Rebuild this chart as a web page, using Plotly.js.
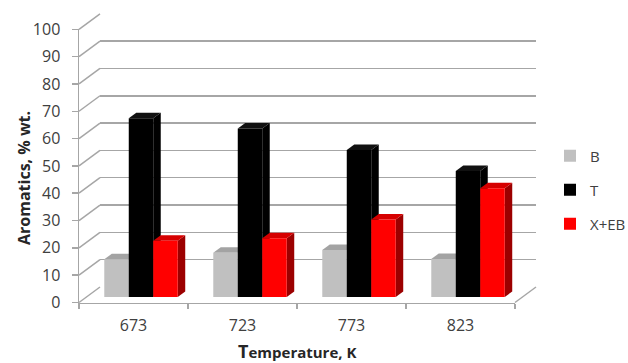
<!DOCTYPE html>
<html>
<head>
<meta charset="utf-8">
<script src="https://cdn.plot.ly/plotly-3.0.1.min.js"></script>
<style>html,body{margin:0;padding:0;background:#fff;}#chart{width:628px;height:363px;}</style>
</head>
<body>
<div id="chart"></div>
<script>
// ---- data ----
const categories = ['673', '723', '773', '823'];
const seriesNames = ['B', 'T', 'X+EB'];
const valuesB = [13.8, 16.2, 17.2, 13.9];
const valuesT = [65.4, 61.7, 53.8, 46.1];
const valuesXEB = [20.6, 21.5, 28.4, 39.8];
const yTicks = [0, 10, 20, 30, 40, 50, 60, 70, 80, 90, 100];

// ---- styles ----
const frontColors = ['#C0C0C0', '#000000', '#FF0000'];
const topColors = ['#A3A3A3', '#111111', '#D60000'];
const sideColors = ['#9A9A9A', '#000000', '#9C0000'];
const gridColor = '#A6A6A6';
const textColor = '#404040';
const FONT = 'Open Sans, sans-serif';

// ---- geometry (pixels) ----
const W = 628, H = 363;
const px = x => x / W, py = y => 1 - y / H;
const FR = {l: 79, r: 515, b: 302.5, t: 29.3};          // front axes
const BK = {l: 100, r: 536, b: 287, t: 13.8};           // back wall
const BR = {l: 86.5, r: 522.5, b: 297, t: 23.8};        // bar plane
const BARGAP = 0.326;
const DEPTH_DX = 7.5;                                   // px
const DEPTH_DY_PX = 5.5;
const DEPTH_DY = DEPTH_DY_PX / ((BR.b - BR.t) / 100);   // value units

const allValues = [valuesB, valuesT, valuesXEB];

// back wall subplot (gridlines only)
const traces = [{
  type: 'scatter', mode: 'markers', x: [0.5], y: [null],
  xaxis: 'x', yaxis: 'y', showlegend: false, hoverinfo: 'skip'
}];
// front category axis (labels only)
traces.push({
  type: 'scatter', mode: 'markers', x: categories, y: categories.map(() => null),
  xaxis: 'x2', yaxis: 'y2', showlegend: false, hoverinfo: 'skip'
});
// bars
allValues.forEach((vals, s) => traces.push({
  type: 'bar',
  name: seriesNames[s],
  x: categories,
  y: vals,
  xaxis: 'x3',
  yaxis: 'y3',
  marker: {color: frontColors[s], line: {width: 0}},
  legendgroup: 'g' + s,
  hoverinfo: 'x+y+name'
}));

const shapes = [];
const lerp = (a, b, f) => a + (b - a) * f;
// left wall slanted lines
yTicks.forEach(v => {
  const f = v / 100;
  shapes.push({
    type: 'line', xref: 'paper', yref: 'paper', layer: 'below',
    x0: px(FR.l), y0: py(lerp(FR.b, FR.t, f)),
    x1: px(BK.l), y1: py(lerp(BK.b, BK.t, f)),
    line: {color: gridColor, width: 1.5}
  });
});
// right floor edge
shapes.push({
  type: 'line', xref: 'paper', yref: 'paper', layer: 'below',
  x0: px(FR.r), y0: py(FR.b), x1: px(BK.r), y1: py(BK.b),
  line: {color: gridColor, width: 1.5}
});

// 3D faces of bars (top and right side), drawn beneath the bar traces
const barW = (1 - BARGAP) / 3;
const catPx = (BR.r - BR.l) / categories.length;
const hw = barW * catPx / 2;
allValues.forEach((vals, s) => {
  vals.forEach((v, i) => {
    const c = i + (s - 1) * barW;
    shapes.push({
      type: 'path', xref: 'x3', yref: 'y3', layer: 'between',
      xsizemode: 'pixel', xanchor: c,
      path: `M ${hw},0 L ${hw + DEPTH_DX},${DEPTH_DY} L ${hw + DEPTH_DX},${v + DEPTH_DY} L ${hw},${v} Z`,
      fillcolor: sideColors[s], line: {width: 0}
    });
    shapes.push({
      type: 'path', xref: 'x3', yref: 'y3', layer: 'between',
      xsizemode: 'pixel', xanchor: c,
      path: `M ${-hw},${v} L ${hw},${v} L ${hw + DEPTH_DX},${v + DEPTH_DY} L ${-hw + DEPTH_DX},${v + DEPTH_DY} Z`,
      fillcolor: topColors[s], line: {width: 0}
    });
  });
});

const layout = {
  width: W, height: H,
  margin: {l: 0, r: 0, t: 0, b: 0, autoexpand: false},
  paper_bgcolor: '#ffffff', plot_bgcolor: 'rgba(0,0,0,0)',
  font: {family: FONT, size: 16, color: textColor},
  showlegend: true,
  barmode: 'group', bargap: BARGAP, bargroupgap: 0,
  // back wall gridlines
  xaxis: {domain: [px(BK.l), px(BK.r)], anchor: 'y', range: [0, 1], showgrid: false,
          zeroline: false, showticklabels: false, ticks: '', showline: false},
  yaxis: {domain: [py(BK.b), py(BK.t)], anchor: 'x', range: [0, 100], tickvals: yTicks,
          showgrid: true, gridcolor: gridColor, gridwidth: 1.5, zeroline: false,
          showticklabels: false, ticks: '', showline: false},
  // front axes with labels
  xaxis2: {domain: [px(FR.l), px(FR.r)], anchor: 'y2', type: 'category',
           categoryarray: categories, range: [-0.5, categories.length - 0.5],
           showgrid: false, zeroline: false, showline: true, linecolor: gridColor, linewidth: 1.5,
           ticks: 'outside', tickson: 'boundaries', ticklen: 5, tickcolor: gridColor, tickwidth: 1.5,
           ticklabelstandoff: 8,
           tickfont: {family: FONT, size: 16, color: textColor}},
  yaxis2: {domain: [py(FR.b), py(FR.t)], anchor: 'x2', range: [0, 100], tickvals: yTicks,
           showgrid: false, zeroline: false, showline: true, linecolor: gridColor, linewidth: 1.5,
           ticks: 'outside', ticklen: 6, tickcolor: gridColor, tickwidth: 1.5,
           ticklabelstandoff: 8,
           tickfont: {family: FONT, size: 16, color: textColor}},
  // bar plane
  xaxis3: {domain: [px(BR.l), px(BR.r)], anchor: 'y3', type: 'category',
           categoryarray: categories, range: [-0.5, categories.length - 0.5],
           visible: false},
  yaxis3: {domain: [py(BR.b), py(BR.t)], anchor: 'x3', range: [0, 100], visible: false},
  legend: {x: px(550), y: py(190), xanchor: 'left', yanchor: 'middle',
           traceorder: 'grouped', tracegroupgap: 11.5, bgcolor: 'rgba(0,0,0,0)',
           font: {family: FONT, size: 15, color: textColor}},
  shapes: shapes,
  annotations: [
    {text: '<b>Aromatics, % wt.</b>', xref: 'paper', yref: 'paper', x: px(24), y: py(178),
     xanchor: 'center', yanchor: 'middle',
     textangle: -90, showarrow: false, font: {family: FONT, size: 16, color: '#262626'}},
    {text: '<b><span style="font-size:18px">T</span>emperature, K</b>', xref: 'paper', yref: 'paper',
     x: px(297), y: py(351), xanchor: 'center', yanchor: 'middle',
     showarrow: false, font: {family: FONT, size: 15, color: '#262626'}}
  ]
};

Plotly.newPlot('chart', traces, layout, {displayModeBar: false, staticPlot: true});
</script>
</body>
</html>
